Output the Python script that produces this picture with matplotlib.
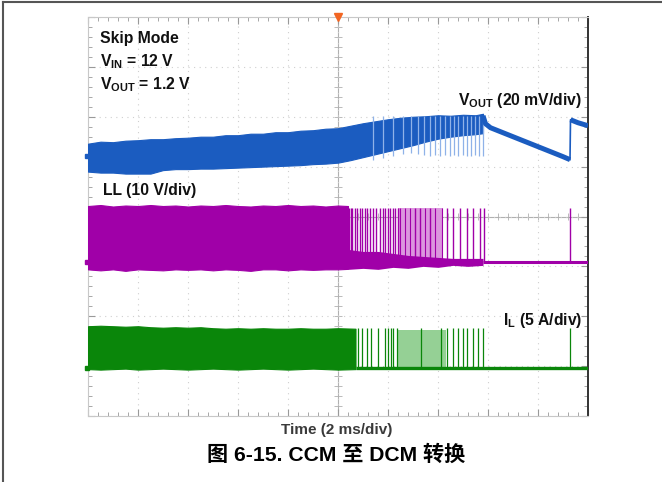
import numpy as np
import matplotlib.pyplot as plt
from matplotlib.lines import Line2D

plt.rcParams['font.family'] = ['Liberation Sans', 'Noto Sans CJK SC', 'DejaVu Sans']
plt.rcParams['mathtext.fontset'] = 'custom'
plt.rcParams['mathtext.bf'] = 'Liberation Sans:bold'
plt.rcParams['mathtext.rm'] = 'Liberation Sans'

# time axis in ms (2 ms/div, 10 div), vertical axis in screen divisions (8 div)

# ---- VOUT (blue) ----
vout_t = [0, 0.5, 1, 1.5, 2, 2.5, 3, 3.5, 4, 4.5, 5, 5.5, 6, 6.5, 7, 7.5, 8,
          8.5, 9, 9.5, 10, 10.5, 11, 11.5, 12, 12.5, 13, 13.5, 14, 14.5, 15, 15.5, 15.8]
vout_top = [5.46, 5.50, 5.49, 5.52, 5.53, 5.55, 5.55, 5.57, 5.58, 5.60, 5.60, 5.63,
            5.63, 5.66, 5.66, 5.69, 5.69, 5.72, 5.73, 5.76, 5.77, 5.82, 5.87, 5.91,
            5.95, 5.98, 6.00, 6.01, 6.03, 6.02, 6.04, 6.03, 6.06]
vout_bot = [4.90, 4.88, 4.88, 4.86, 4.86, 4.86, 4.93, 4.95, 4.95, 4.96, 4.96, 4.97,
            4.98, 4.99, 5.00, 5.01, 5.02, 5.03, 5.05, 5.06, 5.08, 5.13, 5.19, 5.25,
            5.31, 5.37, 5.43, 5.50, 5.56, 5.60, 5.63, 5.65, 5.67]
vout_streak_t = [11.4, 11.8, 12.2, 12.6, 12.9, 13.2, 13.45, 13.68, 13.88, 14.08, 14.28,
                 14.48, 14.64, 14.8, 15.0, 15.16, 15.32, 15.48, 15.64, 15.8]
vout_streak_lo = [5.14, 5.18, 5.22, 5.26, 5.28, 5.26, 5.24, 5.22, 5.24, 5.22, 5.24,
                  5.22, 5.24, 5.22, 5.24, 5.22, 5.22, 5.24, 5.22, 5.22]
vout_decay_t = [15.8, 15.9, 16.1, 16.5, 17.0, 17.5, 18.0, 18.5, 19.0, 19.28]
vout_decay_v = [6.02, 5.86, 5.78, 5.70, 5.60, 5.50, 5.40, 5.30, 5.20, 5.14]
vout_jump_t = [19.28, 19.30, 19.6, 20.0]
vout_jump_v = [5.14, 5.94, 5.88, 5.82]

# ---- LL switch node (magenta) ----
ll_t = [0, 0.5, 1, 1.5, 2, 2.5, 3, 3.5, 4, 4.5, 5, 5.5, 6, 6.5, 7, 7.5, 8, 8.5,
        9, 9.5, 10, 10.4]
ll_top = [4.21, 4.23, 4.20, 4.22, 4.21, 4.23, 4.21, 4.22, 4.20, 4.22, 4.21, 4.23,
          4.21, 4.20, 4.22, 4.21, 4.23, 4.21, 4.22, 4.20, 4.22, 4.21]
ll_bot = [2.94, 2.92, 2.94, 2.91, 2.94, 2.93, 2.92, 2.94, 2.93, 2.94, 2.92, 2.94,
          2.93, 2.91, 2.94, 2.94, 2.92, 2.94, 2.93, 2.94, 2.94, 2.95]
ll_band_t = [10.4, 11.0, 11.6, 12.2, 12.8, 13.4, 14.0, 14.6, 15.2, 15.8]
ll_band_top = [3.34, 3.30, 3.30, 3.26, 3.22, 3.20, 3.18, 3.16, 3.16, 3.16]
ll_band_bot = [2.94, 2.96, 2.94, 2.98, 2.96, 3.00, 2.98, 3.02, 3.00, 3.02]
ll_base = 3.08
ll_high = 4.18
ll_dark_pulse_t = [10.44, 10.5, 10.56, 10.66, 10.76, 10.86, 10.96, 11.06, 11.16,
                   11.28, 11.4, 11.52, 11.68, 11.78, 11.88, 11.98, 12.08, 12.18,
                   12.28, 12.38, 13.08, 13.28, 13.68, 14.36, 14.6, 14.88, 15.16,
                   15.4, 15.68, 15.84, 19.28]
ll_light_zone = [12.4, 14.2]
ll_light_pulse_t = [12.48, 12.68, 12.88, 13.48, 13.88, 14.16]

# ---- IL inductor current (green) ----
il_t = [0, 0.5, 1, 1.5, 2, 2.5, 3, 3.5, 4, 4.5, 5, 5.5, 6, 6.5, 7, 7.5, 8, 8.5,
        9, 9.5, 10, 10.7]
il_top = [1.80, 1.81, 1.80, 1.79, 1.80, 1.78, 1.77, 1.78, 1.77, 1.78, 1.76, 1.75,
          1.76, 1.75, 1.76, 1.75, 1.75, 1.76, 1.75, 1.75, 1.76, 1.75]
il_bot = [0.94, 0.93, 0.94, 0.95, 0.93, 0.94, 0.95, 0.94, 0.93, 0.94, 0.95, 0.94,
          0.93, 0.94, 0.95, 0.94, 0.93, 0.94, 0.95, 0.94, 0.93, 0.94]
il_base = 0.97
il_high = 1.76
il_dark_pulse_t = [10.8, 10.96, 11.16, 11.3, 11.6, 11.88, 12.0, 12.1, 12.2, 12.36,
                   13.3, 14.1, 14.36, 14.6, 14.8, 15.0, 15.16, 15.4, 15.6, 15.8, 19.28]
il_light_zone = [12.4, 14.3]

BLUE, BLUE_LT = '#1b5cc0', '#8fb2e8'
MAG, MAG_LT = '#a000a8', '#dc96de'
GRN, GRN_LT = '#0a860a', '#95d095'

W, H = 662, 482
fig = plt.figure(figsize=(W / 100, H / 100), dpi=100)
ax = fig.add_axes([88 / W, 66 / H, 500 / W, 399 / H])
ax.set_xlim(0, 20)
ax.set_ylim(0, 8)

# graticule
ax.set_xticks(np.arange(0, 20.1, 2))
ax.set_xticks(np.arange(0, 20.1, 0.4), minor=True)
ax.set_yticks(np.arange(0, 8.1, 1))
ax.set_yticks(np.arange(0, 8.1, 0.2), minor=True)
ax.tick_params(which='both', direction='in', top=True, right=True,
               labelbottom=False, labelleft=False, color='#999999')
ax.tick_params(which='major', length=5, width=0.8)
ax.tick_params(which='minor', length=3, width=0.6)
ax.grid(True, which='major', color='#cfcfcf', linestyle=(0, (1, 4)), linewidth=0.8)
for s in ['top', 'bottom', 'left']:
    ax.spines[s].set_color('#c8c8c8')
ax.spines['right'].set_color('#333333')
ax.spines['right'].set_linewidth(1.4)
ax.axvline(10, color='#b0b0b0', lw=0.8, zorder=1)
ax.axhline(4, color='#b0b0b0', lw=0.8, zorder=1)
ax.vlines(np.arange(0, 20.1, 0.4), 3.93, 4.07, color='#b0b0b0', lw=0.6, zorder=1)
ax.hlines(np.arange(0, 8.1, 0.2), 9.85, 10.15, color='#b0b0b0', lw=0.6, zorder=1)

# VOUT
ax.fill_between(vout_t, vout_bot, vout_top, color=BLUE, lw=0.8, zorder=3)
ax.vlines(vout_streak_t, vout_streak_lo, 6.02, color=BLUE_LT, lw=0.9, zorder=3)
ax.plot(vout_decay_t, vout_decay_v, color=BLUE, lw=3.6, solid_capstyle='butt', zorder=3)
ax.plot(vout_jump_t, vout_jump_v, color=BLUE, lw=1.2, zorder=3)
ax.plot(vout_jump_t[1:], vout_jump_v[1:], color=BLUE, lw=3.6, solid_capstyle='butt', zorder=3)

# LL
ax.fill_between(ll_t, ll_bot, ll_top, color=MAG, lw=0.8, zorder=3)
ax.fill_between(ll_light_zone, ll_base, ll_high, color=MAG_LT, lw=0, zorder=2)
ax.fill_between(ll_band_t, ll_band_bot, ll_band_top, color=MAG, lw=0, zorder=3)
ax.hlines(ll_base, ll_band_t[-1], 20, color=MAG, lw=2.2, zorder=3)
ax.vlines(ll_light_pulse_t, ll_base, ll_high, color=MAG, lw=0.8, zorder=3)
ax.vlines(ll_dark_pulse_t, ll_base, ll_high, color=MAG, lw=1.0, zorder=3)

# IL
ax.fill_between(il_t, il_bot, il_top, color=GRN, lw=0.8, zorder=3)
ax.fill_between(il_light_zone, il_base, il_high - 0.04, color=GRN_LT, lw=0, zorder=2)
ax.hlines(il_base, il_t[-1], 20, color=GRN, lw=2.4, zorder=3)
ax.vlines(il_dark_pulse_t, il_base, il_high, color=GRN, lw=0.9, zorder=3)

# trigger and channel markers
ax.plot([10], [8], marker='v', color='#f26522', ms=6, clip_on=False, zorder=5)
for lvl, c in [(5.22, BLUE), (ll_base, MAG), (il_base, GRN)]:
    ax.plot([-0.06], [lvl], marker='s', color=c, ms=3, clip_on=False, zorder=5)

# labels
tk = dict(fontsize=11.3, fontweight='bold', va='center', color='#111111')
fig.text(100 / W, 1 - 39 / H, 'Skip Mode', **tk)
fig.text(100 / W, 1 - 62 / H, r'V$_{\mathbf{IN}}$ = 12 V', **tk)
fig.text(100 / W, 1 - 85 / H, r'V$_{\mathbf{OUT}}$ = 1.2 V', **tk)
fig.text(582 / W, 1 - 100 / H, r'V$_{\mathbf{OUT}}$ (20 mV/div)', ha='right', **tk)
fig.text(103 / W, 1 - 191 / H, 'LL (10 V/div)', **tk)
fig.text(582 / W, 1 - 321 / H, r'I$_{\mathbf{L}}$ (5 A/div)', ha='right', **tk)
fig.text(337 / W, 1 - 430 / H, 'Time (2 ms/div)', ha='center', va='center',
         fontsize=11, fontweight='bold', color='#3a3a3a')
fig.text(336 / W, 1 - 455 / H, '图 6-15. CCM 至 DCM 转换', ha='center', va='center',
         fontsize=15.2, fontweight='bold', color='#000000')

# page frame
fig.add_artist(Line2D([3 / W, 1], [1 - 2 / H, 1 - 2 / H], color='#555555', lw=1.5))
fig.add_artist(Line2D([3 / W, 3 / W], [0, 1 - 2 / H], color='#555555', lw=1.5))

fig.savefig('out.png', dpi=100)
